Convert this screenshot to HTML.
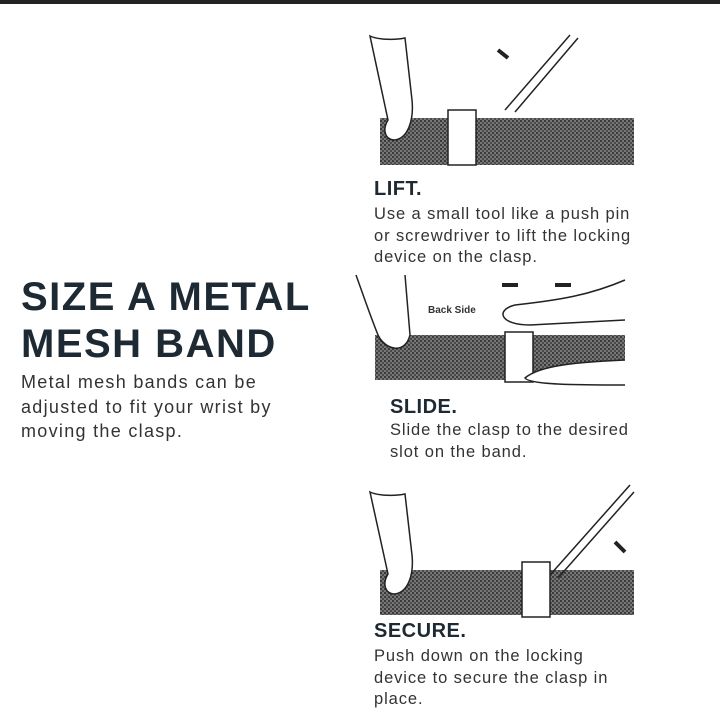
<!DOCTYPE html>
<html><head><style>
body{margin:0;width:720px;height:719px;background:#fff;position:relative;overflow:hidden;font-family:"Liberation Sans",sans-serif;color:#1f2a33}
.t{position:absolute;white-space:nowrap}
.h{font-weight:bold;font-size:40px;letter-spacing:1.5px;color:#1e2a33}
.b{font-size:18px;color:#333;line-height:24.5px;letter-spacing:1.3px}
.s{font-weight:bold;font-size:20px;color:#1e2a33;letter-spacing:0.5px}
.d{font-size:16.5px;color:#333;line-height:21.5px;letter-spacing:0.9px}
</style></head><body>
<div style="position:absolute;left:0;top:0;width:720px;height:4px;background:#222"></div>
<div class="t h" style="left:21px;top:275px">SIZE A METAL</div>
<div class="t h" style="left:21px;top:322px">MESH BAND</div>
<div class="t b" style="left:21px;top:370px">Metal mesh bands can be<br>adjusted to fit your wrist by<br>moving the clasp.</div>

<svg width="720" height="719" style="position:absolute;left:0;top:0">
<defs><pattern id="m" width="4" height="4" patternUnits="userSpaceOnUse"><rect width="4" height="4" fill="#777"/><rect width="2" height="2" fill="#3a3a3a"/><rect x="2" y="2" width="2" height="2" fill="#4a4a4a"/></pattern></defs>
<g fill="none" stroke="#222" stroke-width="1.5">
<rect x="380" y="118" width="254" height="47" fill="url(#m)" stroke="none"/>
<rect x="448" y="110" width="28" height="55" fill="#fff"/>
<path d="M370 36 C378 40 395 40 405 38 L412 100 C414 120 408 138 395 140 C385 140 382 130 388 120 Z" fill="#fff"/>
<path d="M505 110 L570 35 M515 112 L578 38" />
<path d="M498 50 l10 8" stroke-width="4"/>
<rect x="375" y="335" width="250" height="45" fill="url(#m)" stroke="none"/>
<rect x="505" y="332" width="28" height="50" fill="#fff"/>
<path d="M356 275 C365 300 370 315 378 335 C385 350 405 355 410 335 L405 275" fill="#fff"/>
<path d="M625 280 C590 295 560 300 515 305 C495 310 500 325 530 325 L625 320" fill="#fff"/>
<path d="M625 360 C580 362 540 365 525 378 C530 385 580 385 625 385" fill="#fff"/>
<path d="M502 285 h16 M555 285 h16" stroke-width="4"/>
<rect x="380" y="570" width="254" height="45" fill="url(#m)" stroke="none"/>
<rect x="522" y="562" width="28" height="55" fill="#fff"/>
<path d="M370 492 C378 496 395 496 405 494 L412 555 C414 575 408 592 395 594 C385 594 382 584 388 574 Z" fill="#fff"/>
<path d="M550 575 L630 485 M558 578 L634 492"/>
<path d="M625 552 l-10 -10" stroke-width="4"/>
</g>
<text x="428" y="313" font-family="Liberation Sans" font-size="10" font-weight="bold" fill="#333">Back Side</text>
</svg>

<div class="t s" style="left:374px;top:178px">LIFT.</div>
<div class="t d" style="left:374px;top:204px">Use a small tool like a push pin<br>or screwdriver to lift the locking<br>device on the clasp.</div>
<div class="t s" style="left:390px;top:396px">SLIDE.</div>
<div class="t d" style="left:390px;top:420px">Slide the clasp to the desired<br>slot on the band.</div>
<div class="t s" style="left:374px;top:620px">SECURE.</div>
<div class="t d" style="left:374px;top:646px">Push down on the locking<br>device to secure the clasp in<br>place.</div>
</body></html>
